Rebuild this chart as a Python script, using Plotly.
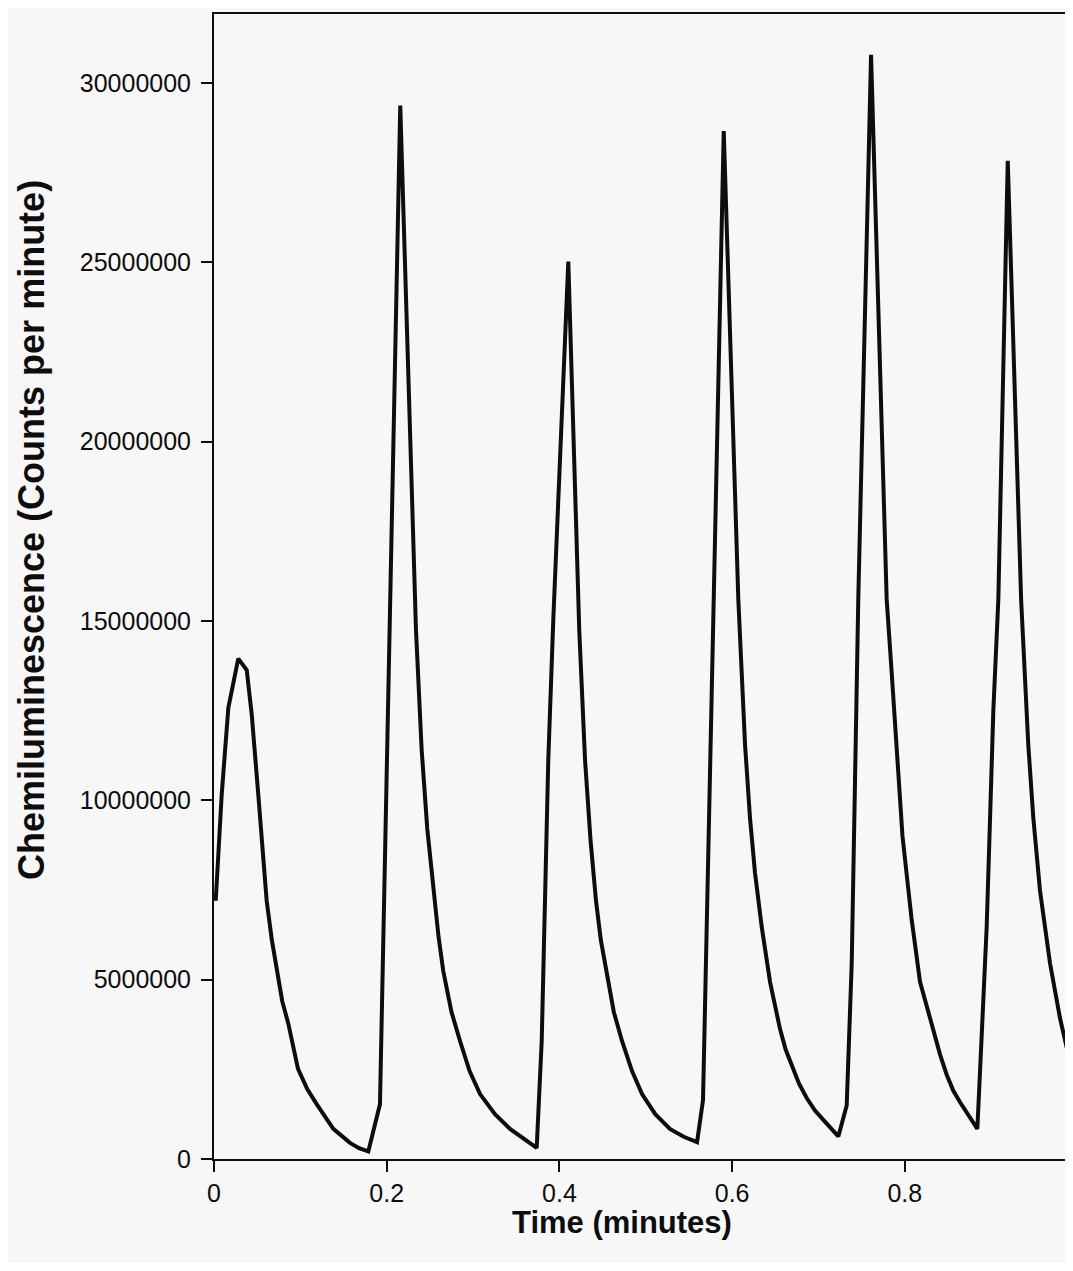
import plotly.graph_objects as go

# Time (minutes) and chemiluminescence (counts per minute)
time_min = [
    0.002, 0.0089, 0.0166, 0.0281, 0.0379, 0.0437, 0.0513, 0.061, 0.067, 0.0726, 0.079, 0.086,
    0.0973, 0.108, 0.1189, 0.1382, 0.1575, 0.168, 0.1787, 0.1922,
    0.2157, 0.2339, 0.2405, 0.247, 0.254, 0.26, 0.2655, 0.275, 0.2849, 0.296, 0.3081,
    0.3254, 0.3428, 0.3595, 0.3737,
    0.3795, 0.3833, 0.3871, 0.3929,
    0.4103, 0.4230, 0.4297, 0.436, 0.4424, 0.448, 0.454, 0.463, 0.4725, 0.4841, 0.4957,
    0.511, 0.528, 0.544, 0.5594, 0.5663,
    0.5903, 0.6072, 0.6111, 0.615, 0.6207, 0.6265, 0.6343, 0.6439, 0.6555, 0.662, 0.669,
    0.6775, 0.6864, 0.696, 0.7056, 0.714, 0.723, 0.7327, 0.7385, 0.7423, 0.7461,
    0.7609, 0.779, 0.7848, 0.7906, 0.7973, 0.8077, 0.8176, 0.8292, 0.8408, 0.8485, 0.8562,
    0.864, 0.8717, 0.878, 0.884, 0.889, 0.8948, 0.8987, 0.9025, 0.9083,
    0.9192, 0.9347, 0.9392, 0.943, 0.9488, 0.9566, 0.9682, 0.9797, 0.9913, 1.0,
]
counts = [
    7.20e6, 10.15e6, 12.58e6, 13.95e6, 13.63e6, 12.39e6, 10.15e6, 7.20e6, 6.10e6, 5.24e6, 4.40e6, 3.78e6,
    2.51e6, 1.95e6, 1.53e6, 0.84e6, 0.45e6, 0.30e6, 0.21e6, 1.53e6,
    29.37e6, 14.75e6, 11.40e6, 9.20e6, 7.47e6, 6.20e6, 5.24e6, 4.10e6, 3.29e6, 2.45e6, 1.81e6,
    1.25e6, 0.84e6, 0.55e6, 0.31e6,
    3.29e6, 7.19e6, 11.12e6, 15.03e6,
    25.02e6, 14.73e6, 11.12e6, 8.90e6, 7.19e6, 6.10e6, 5.24e6, 4.10e6, 3.29e6, 2.45e6, 1.81e6,
    1.25e6, 0.84e6, 0.62e6, 0.47e6, 1.64e6,
    28.66e6, 15.59e6, 13.56e6, 11.54e6, 9.51e6, 7.98e6, 6.47e6, 4.94e6, 3.62e6, 3.05e6, 2.62e6,
    2.10e6, 1.70e6, 1.35e6, 1.09e6, 0.85e6, 0.63e6, 1.49e6, 5.45e6, 10.50e6, 15.60e6,
    30.78e6, 15.60e6, 13.56e6, 11.54e6, 9.00e6, 6.72e6, 4.94e6, 3.93e6, 2.91e6, 2.35e6, 1.90e6,
    1.58e6, 1.29e6, 1.05e6, 0.84e6, 3.43e6, 6.47e6, 9.50e6, 12.50e6, 15.60e6,
    27.83e6, 15.59e6, 13.56e6, 11.54e6, 9.51e6, 7.47e6, 5.45e6, 3.93e6, 2.70e6, 2.30e6,
]

x_ticks = [0, 0.2, 0.4, 0.6, 0.8, 1]
x_ticktext = ["0", "0.2", "0.4", "0.6", "0.8", "1"]
y_ticks = [0, 5000000, 10000000, 15000000, 20000000, 25000000, 30000000]
y_ticktext = ["0", "5000000", "10000000", "15000000", "20000000", "25000000", "30000000"]

x_title = "Time (minutes)"
y_title = "Chemiluminescence (Counts per minute)"

FONT = "Liberation Sans, Arial, Helvetica, sans-serif"
INK = "#0d0d0d"
BG = "#f7f7f7"

# page body has an 8px margin, so the figure is sized to fit inside it
W, H = 1057, 1255
ML, MR, MT, MB = 206, 0, 6, 104
plot_w = W - ML - MR
plot_h = H - MT - MB

fig = go.Figure()
fig.add_trace(go.Scatter(
    x=time_min, y=counts, mode="lines",
    line=dict(color=INK, width=4),
    showlegend=False,
))

fig.update_layout(
    width=W, height=H,
    margin=dict(l=ML, r=MR, t=MT, b=MB),
    paper_bgcolor=BG, plot_bgcolor=BG,
    font=dict(family=FONT, color=INK),
)
fig.update_xaxes(
    range=[0, 0.9855], tickvals=x_ticks, ticktext=x_ticktext,
    showgrid=False, zeroline=False,
    showline=True, linecolor=INK, linewidth=2, mirror=True,
    ticks="outside", ticklen=11, tickwidth=2, tickcolor=INK,
    tickfont=dict(size=25, family=FONT, color=INK),
    automargin=False,
)
fig.update_yaxes(
    range=[0, 31.92e6], tickvals=y_ticks, ticktext=y_ticktext,
    showgrid=False, zeroline=False,
    showline=True, linecolor=INK, linewidth=2, mirror=True,
    ticks="outside", ticklen=11, tickwidth=2, tickcolor=INK,
    tickfont=dict(size=25, family=FONT, color=INK),
    ticklabelstandoff=5,
    automargin=False,
)

# axis titles placed as annotations (paper coordinates from pixel offsets)
fig.add_annotation(
    text="<b>" + x_title + "</b>", xref="paper", yref="paper",
    x=(614 - ML) / plot_w, y=-63 / plot_h, xanchor="center", yanchor="middle",
    showarrow=False, font=dict(size=31, family=FONT, color=INK),
)
fig.add_annotation(
    text="<b>" + y_title + "</b>", xref="paper", yref="paper",
    x=(23 - ML) / plot_w, y=(H - MB - 522) / plot_h, xanchor="center", yanchor="middle",
    textangle=-90, showarrow=False, font=dict(size=36, family=FONT, color=INK),
)

fig.write_html("out.html")
